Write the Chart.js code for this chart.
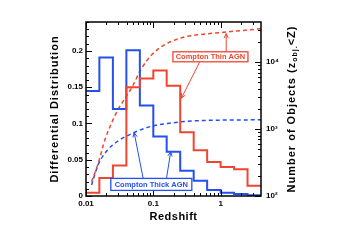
<!DOCTYPE html>
<html>
<head>
<meta charset="utf-8">
<script src="https://cdn.jsdelivr.net/npm/chart.js@4.4.0/dist/chart.umd.min.js"></script>
<style>
  html, body { margin: 0; padding: 0; background: #fff; }
  canvas { display: block; }
</style>
</head>
<body>
<canvas id="agn" width="343" height="242"></canvas>
<script>
// bin edges in redshift (0.2 dex bins)
const binEdges = [0.01, 0.0158, 0.0251, 0.0398, 0.0631, 0.1, 0.158, 0.251, 0.398, 0.631, 1, 1.585, 2.512, 3.981]
// differential distributions
const thickHist = [0.145, 0.191, 0.12, 0.201, 0.125, 0.082, 0.061, 0.035, 0.021, 0.0083, 0.0045, 0.0028, 0.001]
const thinHist = [0.0045, 0.025, 0.042, 0.15, 0.162, 0.173, 0.152, 0.088, 0.063, 0.047, 0.040, 0.037, 0.014]

// cumulative number of objects (right axis)
const thinZ = [0.0121, 0.0152, 0.0191, 0.024, 0.0298, 0.0369, 0.0492, 0.0653, 0.0973, 0.153, 0.303, 0.39, 1.21, 3.981]
const thinN = [164, 309, 692, 1230, 1950, 2750, 4370, 7760, 13200, 18600, 24000, 25100, 28200, 31600]
const thickZ = [0.0121, 0.0152, 0.0211, 0.0298, 0.0498, 0.0923, 0.182, 0.36, 3.981]
const thickN = [146, 295, 490, 661, 871, 1096, 1230, 1318, 1380]

// ticks
const xTicks = [0.01, 0.1, 1]
const xTickLabels = ['0.01', '0.1', '1']
const yTicks = [0, 0.05, 0.1, 0.15, 0.2]
const yTickLabels = ['0', '0.05', '0.1', '0.15', '0.2']
const y1Ticks = [100, 1000, 10000]
const y1TickLabels = ['10\u00b2', '10\u00b3', '10\u2074']

const RED = '#ee4630'
const BLUE = '#2350ee'
const FONT = '"Liberation Sans", Arial, sans-serif'

function histPoints(vals) {
    const pts = vals.map((v, i) => ({ x: binEdges[i], y: v }))
    pts.push({ x: binEdges[binEdges.length - 1], y: vals[vals.length - 1] })
    return pts
}
function curvePoints(zs, ns) {
    return zs.map((z, i) => ({ x: z, y: ns[i] }))
}

// IDL style inside ticks, frame, titles, labelled arrows
const decorate = {
    id: 'decorate',
    afterDatasetsDraw(chart) {
        const ctx = chart.ctx
        const a = chart.chartArea
        const sx = chart.scales.x, sy = chart.scales.y, sy1 = chart.scales.y1
        ctx.save()
        ctx.strokeStyle = '#000'
        ctx.lineWidth = 1
        ctx.beginPath()
        // x ticks, bottom and top
        for (let d = 0.01; d <= 1.0001; d *= 10) {
            for (let k = 1; k <= 9; k++) {
                const v = d * k
                if (v > sx.max) break
                const px = Math.round(sx.getPixelForValue(v)) + 0.5
                const len = k === 1 ? 6 : 3
                ctx.moveTo(px, a.bottom); ctx.lineTo(px, a.bottom - len)
                ctx.moveTo(px, a.top); ctx.lineTo(px, a.top + len)
            }
        }
        // left linear ticks
        for (let i = 0; i <= 24; i++) {
            const py = Math.round(sy.getPixelForValue(i * 0.01)) + 0.5
            const len = i % 5 === 0 ? 6 : 3
            ctx.moveTo(a.left, py); ctx.lineTo(a.left + len, py)
        }
        // right log ticks
        for (let d = 100; d <= 10000; d *= 10) {
            for (let k = 1; k <= 9; k++) {
                const v = d * k
                if (v > sy1.max) break
                const py = Math.round(sy1.getPixelForValue(v)) + 0.5
                const len = k === 1 ? 6 : 3
                ctx.moveTo(a.right, py); ctx.lineTo(a.right - len, py)
            }
        }
        ctx.stroke()

        // frame
        ctx.lineWidth = 1.5
        ctx.strokeRect(a.left, a.top, a.right - a.left, a.bottom - a.top)

        // labelled arrows, positions in data units
        function arrow(x0, y0, x1, y1, color) {
            const p0 = [sx.getPixelForValue(x0), sy.getPixelForValue(y0)]
            const p1 = [sx.getPixelForValue(x1), sy.getPixelForValue(y1)]
            const ang = Math.atan2(p1[1] - p0[1], p1[0] - p0[0])
            ctx.strokeStyle = color
            ctx.lineWidth = 1
            ctx.beginPath()
            ctx.moveTo(p0[0], p0[1]); ctx.lineTo(p1[0], p1[1])
            for (const s of [-1, 1]) {
                ctx.moveTo(p1[0], p1[1])
                ctx.lineTo(p1[0] - 5 * Math.cos(ang + s * 0.45), p1[1] - 5 * Math.sin(ang + s * 0.45))
            }
            ctx.stroke()
        }
        function box(text, xc, yc, w, h, color) {
            const cx = sx.getPixelForValue(xc), cy = sy.getPixelForValue(yc)
            ctx.fillStyle = '#fff'
            ctx.fillRect(cx - w / 2, cy - h / 2, w, h)
            ctx.strokeStyle = color
            ctx.lineWidth = 1.3
            ctx.strokeRect(cx - w / 2, cy - h / 2, w, h)
            ctx.fillStyle = color
            ctx.font = 'bold 7.5px ' + FONT
            ctx.textAlign = 'center'
            ctx.textBaseline = 'middle'
            ctx.fillText(text, cx, cy + 0.5)
        }
        arrow(0.489, 0.185, 0.262, 0.135, RED)
        arrow(1.21, 0.199, 1.21, 0.224, RED)
        box('Compton Thin AGN', 0.706, 0.192, 75, 10, RED)
        arrow(0.0706, 0.0244, 0.052, 0.0873, BLUE)
        arrow(0.157, 0.0244, 0.1815, 0.0611, BLUE)
        box('Compton Thick AGN', 0.0934, 0.016, 81, 12, BLUE)

        // axis titles
        ctx.fillStyle = '#000'
        ctx.textAlign = 'center'
        ctx.textBaseline = 'middle'
        ctx.font = 'bold 11px ' + FONT
        ctx.letterSpacing = '0.5px'
        ctx.fillText('Redshift', (a.left + a.right) / 2, 216.5)
        ctx.letterSpacing = '1px'
        ctx.save()
        ctx.translate(55, (a.top + a.bottom) / 2)
        ctx.rotate(-Math.PI / 2)
        ctx.fillText('Differential Distribution', 0, 0)
        ctx.restore()

        // right title with subscript
        ctx.save()
        ctx.translate(292, (a.top + a.bottom) / 2)
        ctx.rotate(-Math.PI / 2)
        const parts = [['Number of Objects (z', 11, 0], ['obj.', 7, 3], ['<Z)', 11, 0]]
        let total = 0
        for (const p of parts) { ctx.font = 'bold ' + p[1] + 'px ' + FONT; total += ctx.measureText(p[0]).width }
        let x = -total / 2
        ctx.textAlign = 'left'
        for (const p of parts) {
            ctx.font = 'bold ' + p[1] + 'px ' + FONT
            ctx.fillText(p[0], x, p[2])
            x += ctx.measureText(p[0]).width
        }
        ctx.restore()
        ctx.restore()
    }
}

const tickFont = { family: FONT, size: 8, weight: 'bold' }

new Chart(document.getElementById('agn'), {
    type: 'line',
    data: {
        datasets: [
            { data: histPoints(thinHist), yAxisID: 'y', borderColor: RED, borderWidth: 2, stepped: 'before', pointRadius: 0, fill: false },
            { data: histPoints(thickHist), yAxisID: 'y', borderColor: BLUE, borderWidth: 2, stepped: 'before', pointRadius: 0, fill: false },
            { data: curvePoints(thinZ, thinN), yAxisID: 'y1', borderColor: RED, borderWidth: 1.5, borderDash: [4, 3], cubicInterpolationMode: 'monotone', pointRadius: 0, fill: false },
            { data: curvePoints(thickZ, thickN), yAxisID: 'y1', borderColor: BLUE, borderWidth: 1.5, borderDash: [4, 3], cubicInterpolationMode: 'monotone', pointRadius: 0, fill: false },
        ]
    },
    options: {
        responsive: false,
        animation: false,
        layout: { padding: { top: 22, left: 0, right: 0, bottom: 0 } },
        plugins: { legend: { display: false }, tooltip: { enabled: false } },
        scales: {
            x: {
                type: 'logarithmic', min: 0.01, max: 3.981, position: 'bottom',
                grid: { display: false, drawTicks: false }, border: { display: false },
                afterBuildTicks: s => { s.ticks = xTicks.map(v => ({ value: v })) },
                afterFit: s => { s.height = 46 },
                ticks: { font: tickFont, color: '#000', padding: 3, maxRotation: 0, autoSkip: false,
                    callback: v => xTickLabels[xTicks.indexOf(v)] }
            },
            y: {
                type: 'linear', min: 0, max: 0.24, position: 'left',
                grid: { display: false, drawTicks: false }, border: { display: false },
                afterBuildTicks: s => { s.ticks = yTicks.map(v => ({ value: v })) },
                afterFit: s => { s.width = 86 },
                ticks: { font: tickFont, color: '#000', padding: 3,
                    callback: v => yTickLabels[yTicks.indexOf(v)] }
            },
            y1: {
                type: 'logarithmic', min: 100, max: 39811, position: 'right',
                grid: { display: false, drawTicks: false }, border: { display: false },
                afterBuildTicks: s => { s.ticks = y1Ticks.map(v => ({ value: v })) },
                afterFit: s => { s.width = 82 },
                ticks: { font: tickFont, color: '#000', padding: 5,
                    callback: v => y1TickLabels[y1Ticks.indexOf(v)] }
            }
        }
    },
    plugins: [decorate]
})
</script>
</body>
</html>
